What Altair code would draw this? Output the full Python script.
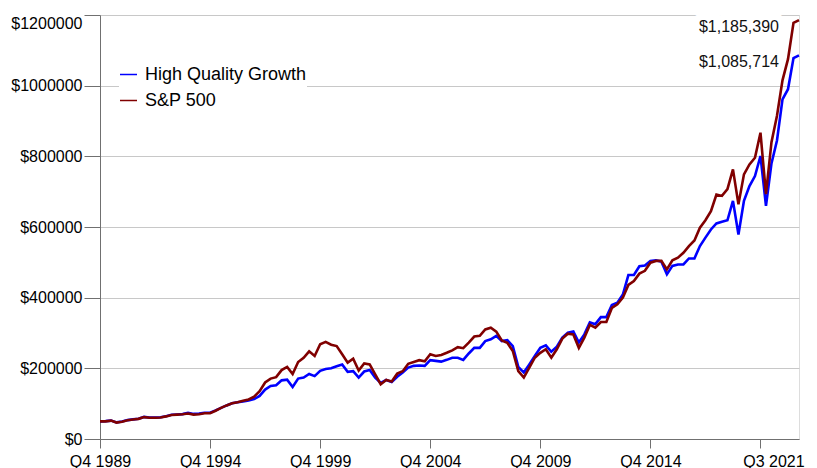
import altair as alt
import pandas as pd

series_names = ["High Quality Growth", "S&P 500"]
series_colors = ["#0000ff", "#800000"]

sp500 = [
    50000, 50000, 52000, 46500, 49000, 53000, 55000, 57000, 62000, 60000,
    60000, 61000, 64000, 68000, 69000, 70000, 72000, 69000, 70000, 73000,
    73000, 80000, 88000, 95000, 101000, 104000, 108000, 112000, 120000, 135000,
    160000, 171000, 175000, 195000, 204000, 184000, 218000, 230000, 248000, 235000,
    268000, 275000, 267000, 263000, 240000, 216000, 227000, 194000, 214000, 211000,
    183000, 155000, 167000, 163000, 185000, 192000, 213000, 218000, 223000, 220000,
    240000, 235000, 238000, 244000, 251000, 260000, 257000, 273000, 290000, 292000,
    310000, 315000, 304000, 279000, 272000, 249000, 192000, 174000, 202000, 230000,
    244000, 254000, 230000, 254000, 284000, 298000, 296000, 258000, 287000, 323000,
    315000, 331000, 331000, 371000, 381000, 400000, 436000, 447000, 468000, 476000,
    499000, 504000, 504000, 480000, 506000, 513000, 527000, 546000, 562000, 598000,
    619000, 645000, 692000, 688000, 707000, 763000, 664000, 749000, 777000, 796000,
    867000, 693000, 840000, 915000, 1015000, 1075000, 1178000, 1185390,
]

hqg = [
    50000, 50500, 52000, 47000, 49500, 53500, 55500, 57500, 62500, 61000,
    60500, 61500, 64500, 68500, 69500, 70500, 74000, 71000, 72000, 74500,
    74500, 81000, 88000, 95000, 101000, 104000, 106000, 109000, 113000, 122000,
    140000, 150000, 152000, 166000, 168000, 147000, 171000, 174000, 184000, 178000,
    193000, 198000, 200000, 206000, 211000, 190000, 192000, 174000, 191000, 195000,
    174000, 159000, 167000, 161000, 176000, 188000, 202000, 207000, 208000, 207000,
    223000, 221000, 219000, 224000, 230000, 230000, 224000, 242000, 258000, 258000,
    277000, 282000, 292000, 277000, 280000, 263000, 204000, 188000, 211000, 235000,
    258000, 265000, 247000, 261000, 287000, 301000, 304000, 273000, 296000, 330000,
    325000, 345000, 345000, 379000, 386000, 409000, 464000, 464000, 489000, 491000,
    504000, 506000, 502000, 466000, 490000, 494000, 494000, 511000, 511000, 546000,
    570000, 593000, 610000, 615000, 619000, 674000, 579000, 674000, 716000, 744000,
    801000, 660000, 780000, 845000, 961000, 990000, 1078000, 1085714,
]

tick_index = [0, 20, 40, 60, 80, 100, 120]
tick_labels = ["Q4 1989", "Q4 1994", "Q4 1999", "Q4 2004", "Q4 2009", "Q4 2014", "Q3 2021"]
y_values = list(range(0, 1200001, 50000))

FONT = "Liberation Sans"
n = len(sp500)

df = pd.DataFrame({
    "i": list(range(n)) * 2,
    "value": hqg + sp500,
    "series": [series_names[0]] * n + [series_names[1]] * n,
})

last = pd.DataFrame({
    "i": [n - 1, n - 1],
    "value": [sp500[-1], hqg[-1]],
    "label": ["${:,.0f}".format(sp500[-1]), "${:,.0f}".format(hqg[-1])],
})

lab_arr = "[" + ",".join("'%s'" % t for t in tick_labels) + "]"
idx_arr = "[" + ",".join(str(t) for t in tick_index) + "]"

x_enc = alt.X(
    "i:Q",
    scale=alt.Scale(domain=[0, n - 1], nice=False, zero=False),
    axis=alt.Axis(
        values=tick_index,
        labelExpr=lab_arr + "[indexof(" + idx_arr + ", datum.value)]",
        title=None, grid=False, tickSize=9, labelPadding=5, labelFlush=False,
        labelOffset={"condition": {"test": "datum.value == %d" % tick_index[-1], "value": 13}, "value": 0},
        labelFont=FONT, labelFontSize=16, labelColor="#000000",
        domainColor="#707070", tickColor="#707070", labelOverlap=False,
    ),
)

y_enc = alt.Y(
    "value:Q",
    scale=alt.Scale(domain=[0, 1200000], nice=False),
    axis=alt.Axis(
        values=y_values,
        labelExpr="datum.value % 200000 == 0 ? '$' + datum.value : ''",
        title=None,
        tickSize={"condition": {"test": "datum.value % 200000 == 0", "value": 16}, "value": 5},
        gridOpacity={"condition": {"test": "datum.value % 200000 == 0", "value": 1}, "value": 0},
        labelOffset={"condition": {"test": "datum.value == 1200000", "value": 8}, "value": 0},
        labelPadding=2, labelFlush=False,
        gridColor="#c8c8c8", domainColor="#707070", tickColor="#707070",
        labelFont=FONT, labelFontSize=16, labelColor="#000000", labelOverlap=False,
    ),
)

lines = alt.Chart(df).mark_line(strokeWidth=2.6).encode(
    x=x_enc,
    y=y_enc,
    color=alt.Color(
        "series:N",
        scale=alt.Scale(domain=series_names, range=series_colors),
        legend=alt.Legend(
            title=None, orient="none", legendX=19, legendY=50,
            symbolType="stroke", symbolSize=289, symbolStrokeWidth=1.5,
            labelFont=FONT, labelFontSize=18, labelColor="#000000",
            labelLimit=300, labelOffset=7, rowPadding=7, padding=0,
            fillColor="white",
        ),
    ),
)

halo = alt.Chart(last).mark_text(
    align="right", baseline="middle", dx=-20, dy=7, font=FONT, fontSize=16,
    color="white", stroke="white", strokeWidth=14,
).encode(x="i:Q", y="value:Q", text="label:N")

labels = alt.Chart(last).mark_text(
    align="right", baseline="middle", dx=-20, dy=7, font=FONT, fontSize=16, color="#111111",
).encode(x="i:Q", y="value:Q", text="label:N")

chart = alt.layer(halo, lines, labels).properties(
    width=699, height=424,
    padding={"left": 2, "top": 6, "right": 2, "bottom": 0},
).configure_view(stroke=None).configure(background="white")

chart.save("out.html", embed_options={"renderer": "svg", "actions": False})
